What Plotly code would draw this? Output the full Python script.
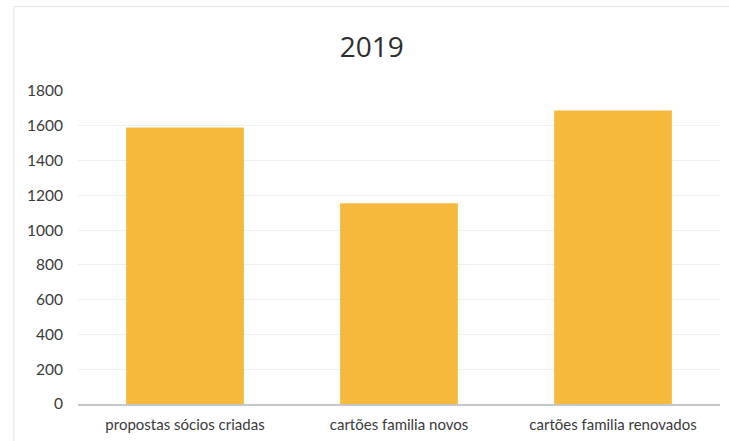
import plotly.graph_objects as go

categories = ["propostas sócios criadas", "cartões familia novos", "cartões familia renovados"]
values = [1590, 1155, 1688]
y_ticks = [0, 200, 400, 600, 800, 1000, 1200, 1400, 1600, 1800]

fig = go.Figure(
    go.Bar(
        x=categories,
        y=values,
        marker=dict(color="#F6B93C", line=dict(width=0)),
    )
)

fig.update_layout(
    width=729,
    height=441,
    margin=dict(l=78, r=9, t=91, b=37),
    paper_bgcolor="white",
    plot_bgcolor="white",
    bargap=0.45,
    showlegend=False,
    font=dict(family="Lato, Open Sans, sans-serif", color="#3a3a3a", size=14),
    title=dict(
        text="2019",
        x=0.51,
        xanchor="center",
        y=0.893,
        yanchor="middle",
        font=dict(size=28, family="Open Sans, sans-serif", color="#2e2e2e"),
    ),
)

fig.update_yaxes(
    range=[0, 1800],
    tickvals=y_ticks,
    showgrid=True,
    gridcolor="#f0f0f0",
    gridwidth=1,
    zeroline=False,
    showline=False,
    ticks="",
    ticklabelstandoff=14,
    tickfont=dict(size=15.5, color="#3a3a3a"),
)

fig.update_xaxes(
    showline=True,
    linecolor="#c4c8cc",
    linewidth=2,
    ticks="",
    ticklabelstandoff=6,
    tickfont=dict(size=15, color="#3a3a3a"),
)

fig.add_shape(
    type="rect",
    xref="paper",
    yref="paper",
    x0=-0.1,
    x1=1.02,
    y0=-0.12,
    y1=1.27,
    line=dict(color="#e4e4e4", width=1),
    fillcolor="rgba(0,0,0,0)",
    layer="below",
)

fig.write_html("out.html")
